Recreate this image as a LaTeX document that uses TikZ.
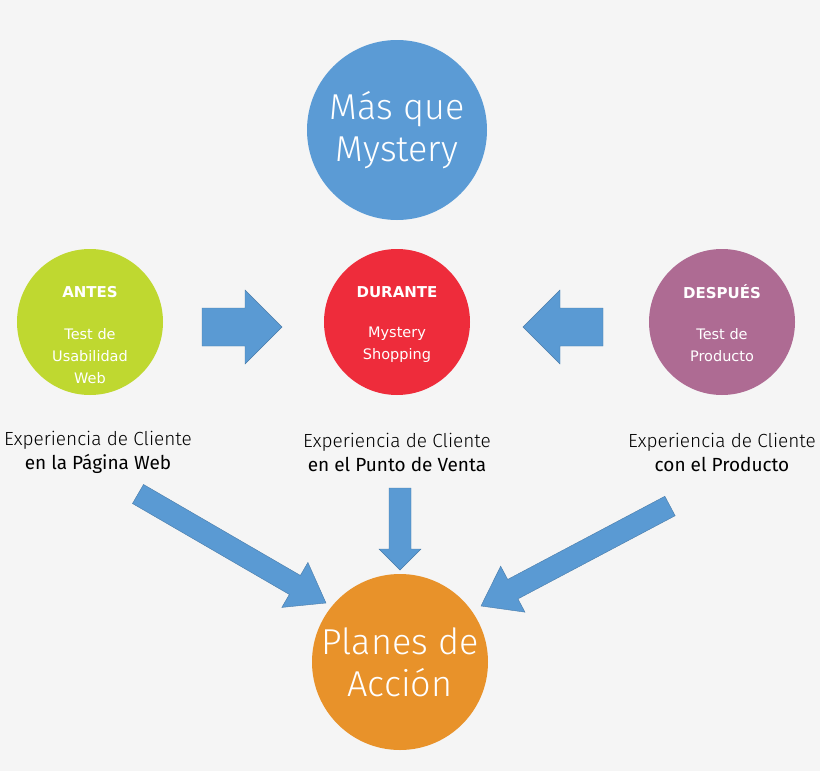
\documentclass[tikz,border=0pt]{standalone}
\usepackage{fontspec}
\setmainfont{DejaVu Sans}
\newfontfamily\hand{Fira Sans Light}
\newfontfamily\handb{Fira Sans}
\usetikzlibrary{calc}
\definecolor{cblue}{HTML}{5B9BD5}
\definecolor{cgreen}{HTML}{BFD830}
\definecolor{cred}{HTML}{EE2C3B}
\definecolor{cpurple}{HTML}{AE6B93}
\definecolor{corange}{HTML}{E8922A}
\definecolor{carrow}{HTML}{5A9AD3}
\definecolor{bg}{HTML}{F5F5F5}
\tikzset{
 circ/.style={circle,fill=#1,draw=none,text=white,align=center,inner sep=0pt},
 lbl/.style={align=center,font=\hand\fontsize{19}{24}\selectfont,inner sep=0pt},
 arr/.style={fill=carrow,draw=carrow!80!black,line width=0.4pt}
}
\newcommand\barrow[5]{%
 \coordinate (Q) at ($(#2)!#5!(#1)$);
 \filldraw[arr] ($(#1)!#3!90:(#2)$) -- ($(Q)!#3!90:(#2)$) -- ($(Q)!#4!90:(#2)$) -- (#2)
 -- ($(Q)!#4!-90:(#2)$) -- ($(Q)!#3!-90:(#2)$) -- ($(#1)!#3!-90:(#2)$) -- cycle;}
\begin{document}
\begin{tikzpicture}[x=1pt,y=-1pt]
\fill[bg] (0,0) rectangle (820,771);
\useasboundingbox (0,0) rectangle (820,771);
\node[circ=cblue,minimum size=180pt,font=\hand\fontsize{36}{42}\selectfont] (mas) at (397,130) {Más que\\Mystery};
\node[circ=cgreen,minimum size=146pt] (antes) at (90,322) {};
\node[font=\bfseries\fontsize{15}{18}\selectfont,text=white] (antesT) at (90,292) {ANTES};
\node[font=\fontsize{14.5}{22}\selectfont,text=white,align=center] (antesB) at (90,356) {Test de\\Usabilidad\\Web};
\node[circ=cred,minimum size=146pt] (dur) at (397,322) {};
\node[font=\bfseries\fontsize{15}{18}\selectfont,text=white] (durT) at (397,292) {DURANTE};
\node[font=\fontsize{14.5}{22}\selectfont,text=white,align=center] (durB) at (397,345) {Mystery\\Shopping};
\node[circ=cpurple,minimum size=146pt] (desp) at (722,322) {};
\node[font=\bfseries\fontsize{15}{18}\selectfont,text=white] (despT) at (722,292) {DESPUÉS};
\node[font=\fontsize{14.5}{22}\selectfont,text=white,align=center] (despB) at (722,345) {Test de\\Producto};
\node[circ=corange,minimum size=176pt,font=\hand\fontsize{36}{42}\selectfont] (plan) at (400,662) {Planes de\\Acción};
\node[lbl] (l1) at (98,452) {Experiencia de Cliente\\{\handb en la Página Web}};
\node[lbl] (l2) at (397,452) {Experiencia de Cliente\\{\handb en el Punto de Venta}};
\node[lbl] (l3) at (722,452) {Experiencia de Cliente\\{\handb con el Producto}};
\coordinate (a1s) at (202,327); \coordinate (a1e) at (282,327);
\coordinate (a2s) at (603,327); \coordinate (a2e) at (523,327);
\coordinate (a3s) at (400,488); \coordinate (a3e) at (400,570);
\coordinate (a4s) at (138,494); \coordinate (a4e) at (326,603);
\coordinate (a5s) at (670,506); \coordinate (a5e) at (481,606);
\barrow{a1s}{a1e}{19pt}{37pt}{37pt}
\barrow{a2s}{a2e}{19pt}{37pt}{37pt}
\barrow{a3s}{a3e}{11pt}{21pt}{21pt}
\barrow{a4s}{a4e}{11pt}{26pt}{36pt}
\barrow{a5s}{a5e}{11pt}{26pt}{36pt}
\end{tikzpicture}
\end{document}
